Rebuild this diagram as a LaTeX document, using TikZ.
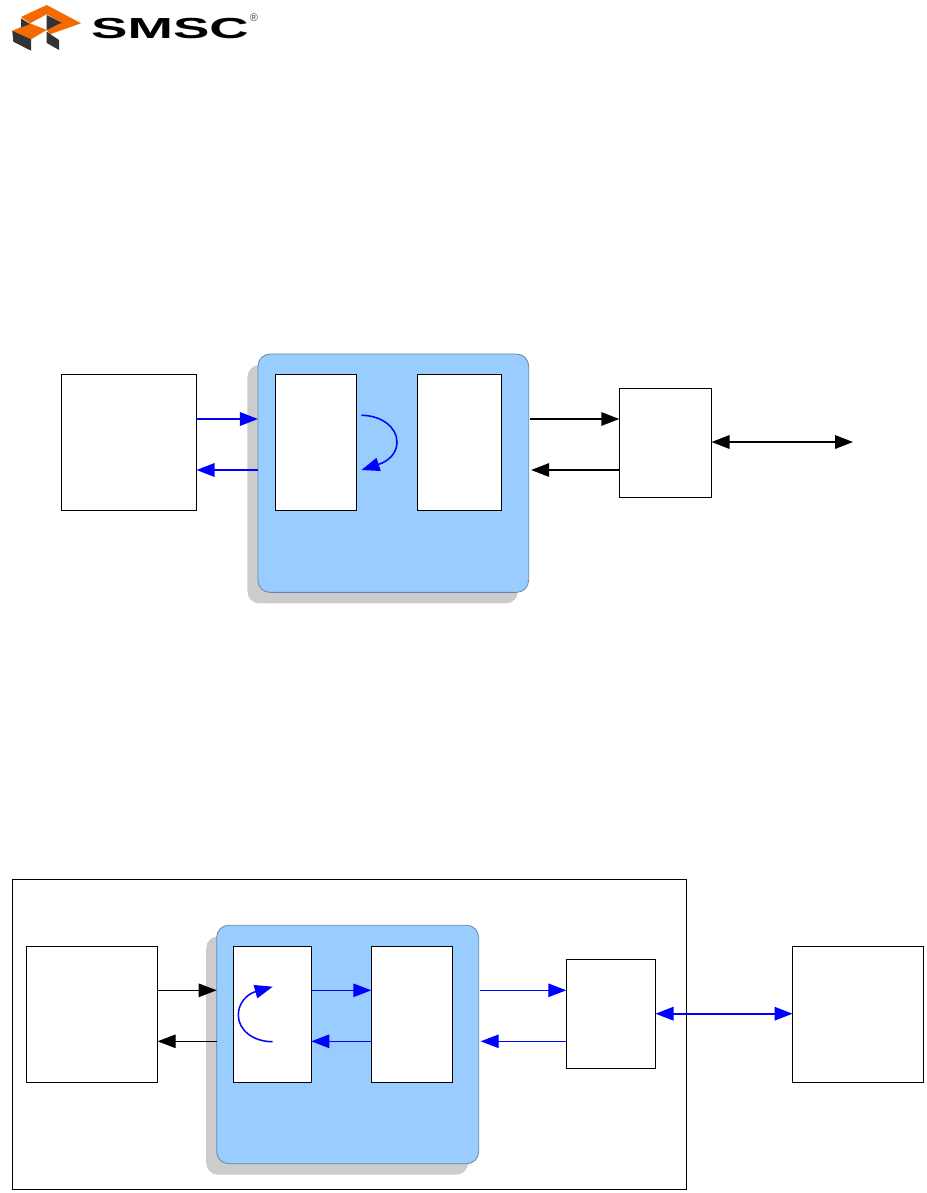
\documentclass[tikz,border=0pt]{standalone}
\usepackage{fontspec}
\setmainfont{Liberation Sans}
\usetikzlibrary{arrows.meta}
\definecolor{cardblue}{HTML}{99CCFF}
\definecolor{cardedge}{HTML}{6A86A6}
\definecolor{cardshadow}{HTML}{CCCCCC}
\definecolor{linkblue}{HTML}{0000FF}
\definecolor{logoorange}{HTML}{F26A00}
\definecolor{logodark}{HTML}{333333}
\tikzset{
    blockbox/.style={draw=black, fill=white, line width=1pt, inner sep=0pt, outer sep=0pt},
    cardbox/.style={draw=cardedge, fill=cardblue, line width=0.8pt, rounded corners=12pt, inner sep=0pt, outer sep=0pt},
    shadowbox/.style={fill=cardshadow, rounded corners=12pt, inner sep=0pt, outer sep=0pt},
}
\begin{document}
\begin{tikzpicture}[x=1pt, y=-1pt, >={Triangle[length=18pt, width=13.5pt]}]
    \useasboundingbox (0,0) rectangle (926,1193);

    % logo
    \fill[logoorange] (21,17) -- (46.7,5) -- (81,23.3) -- (50,34.3) -- (46.7,30) -- (61.7,22.7) -- (46.7,14.3) -- (30,23.3) -- cycle;
    \fill[logoorange] (12.3,30.7) -- (30,23.3) -- (46.7,30) -- (31,39.3) -- cycle;
    \fill[logodark] (21,18.3) -- (30,24) -- (21,27.5) -- cycle;
    \fill[logodark] (46.7,15) -- (61.7,22.7) -- (46.7,30) -- cycle;
    \fill[logodark] (12.3,30.7) -- (31,39.3) -- (31,50.7) -- (13.3,41.7) -- cycle;
    \fill[logodark] (46.7,31.7) -- (59,40) -- (59,50) -- (46.7,43) -- cycle;
    \node[font=\bfseries\fontsize{29}{29}\selectfont, xscale=1.88, inner sep=0pt, text=black] (logoName) at (170,29) {SMSC};
    \node[font=\fontsize{11}{11}\selectfont, text=black!70, inner sep=0pt] (logoMark) at (254,17.5) {®};

    % upper diagram
    \begin{scope}[line width=1.5pt]
        \node[shadowbox, minimum width=270.5pt, minimum height=238.5pt] (shadowA) at (382.7,484.2) {};
        \node[cardbox, minimum width=270.7pt, minimum height=238.3pt] (cardA) at (393.3,473.2) {};
        \node[blockbox, minimum width=135pt, minimum height=136pt] (hostA) at (129,442.5) {};
        \node[blockbox, minimum width=81pt, minimum height=136pt] (leftA) at (315.8,442.3) {};
        \node[blockbox, minimum width=84.4pt, minimum height=136pt] (rightA) at (459.5,442.3) {};
        \node[blockbox, minimum width=92.2pt, minimum height=109pt] (phyA) at (665.4,442.8) {};
        \coordinate (wireA) at (853,442);
        \coordinate (loopStartA) at (361.3,415.3);
        \coordinate (loopEndA) at (361.5,470);

        \draw[->, linkblue] (hostA.east |- 0,419) -- (cardA.west |- 0,419);
        \draw[->, linkblue] (cardA.west |- 0,470) -- (hostA.east |- 0,470);
        \draw[->] ([xshift=1.5pt]cardA.east |- 0,419) -- (phyA.west |- 0,419);
        \draw[->] (phyA.west |- 0,470) -- ([xshift=2.5pt]cardA.east |- 0,470);
        \draw[<->, line width=1.7pt] (phyA.east |- wireA) -- (wireA);
        \draw[->, linkblue] (loopStartA) .. controls (381,415.3) and (397,427) .. (397,442)
            .. controls (397,453) and (389,461) .. (loopEndA);
    \end{scope}

    % lower diagram
    \begin{scope}[line width=1pt]
        \node[blockbox, minimum width=674.7pt, minimum height=310pt] (board) at (349.6,1034) {};
        \node[shadowbox, minimum width=262pt, minimum height=238.4pt] (shadowB) at (337.2,1055.5) {};
        \node[cardbox, minimum width=262pt, minimum height=238.4pt] (cardB) at (347.7,1044.5) {};
        \node[blockbox, minimum width=131.6pt, minimum height=136pt] (hostB) at (91.8,1014) {};
        \node[blockbox, minimum width=78pt, minimum height=136pt] (leftB) at (272.3,1014.3) {};
        \node[blockbox, minimum width=81.4pt, minimum height=136pt] (rightB) at (412,1014.3) {};
        \node[blockbox, minimum width=89.2pt, minimum height=109pt] (phyB) at (610.9,1013.8) {};
        \node[blockbox, minimum width=131pt, minimum height=136pt] (peerB) at (858,1014) {};
        \coordinate (loopStartB) at (272.7,1041.7);
        \coordinate (loopEndB) at (272.7,986.7);

        \draw[->] (hostB.east |- 0,990.3) -- (cardB.west |- 0,990.3);
        \draw[->] (cardB.west |- 0,1041.3) -- (hostB.east |- 0,1041.3);
        \draw[->, linkblue] (leftB.east |- 0,990.3) -- (rightB.west |- 0,990.3);
        \draw[->, linkblue] (rightB.west |- 0,1041.3) -- (leftB.east |- 0,1041.3);
        \draw[->, linkblue] ([xshift=1.5pt]cardB.east |- 0,990.3) -- (phyB.west |- 0,990.3);
        \draw[->, linkblue] (phyB.west |- 0,1041.3) -- ([xshift=2pt]cardB.east |- 0,1041.3);
        \draw[<->, linkblue, line width=1.7pt] (phyB.east |- 0,1013.7) -- (peerB.west |- 0,1013.7);
        \draw[->, linkblue, line width=1.5pt] (loopStartB) .. controls (253,1041.7) and (238.3,1030) .. (238.3,1015)
            .. controls (238.3,1003) and (247,994) .. (loopEndB);
    \end{scope}
\end{tikzpicture}
\end{document}
